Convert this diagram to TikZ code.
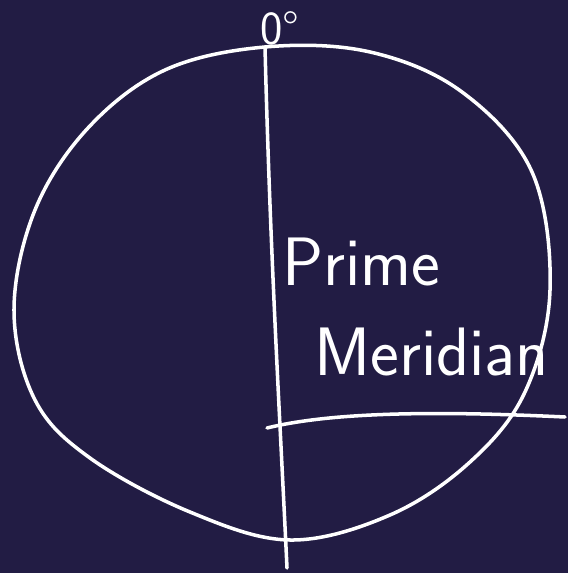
\documentclass[tikz,border=0pt]{standalone}
\usepackage{tikz}
\definecolor{boardbg}{RGB}{34,28,68}
\begin{document}
\begin{tikzpicture}[x=0.02cm,y=-0.02cm]
    \fill[boardbg] (0,0) rectangle (568,573);
    \useasboundingbox (0,0) rectangle (568,573);
    \tikzset{chalk/.style={white,line width=2pt,line cap=round,line join=round},
             scrawl/.style={white,font=\sffamily\fontsize{39}{44}\selectfont,inner sep=0pt}}

    \coordinate (ntop) at (265,47);
    \coordinate (sbot) at (287,568);
    \coordinate (eqw) at (267,428);
    \coordinate (eqe) at (565,417);

    \draw [chalk] plot[smooth cycle,tension=0.6] coordinates {
        (265,47) (165,70) (88,128) (35,210) (14,310) (35,400) (90,458)
        (190,512) (290,540) (390,515) (470,462) (525,392) (550,290)
        (532,172) (462,92) (370,52)};
    \draw [chalk] (ntop) .. controls (270,250) and (280,420) .. (sbot);
    \draw [chalk] (eqw) .. controls (340,410) and (460,412) .. (eqe);

    \node[scrawl,font=\sffamily\fontsize{27}{30}\selectfont] (deg) at (280,28) {0\textdegree};
    \node[scrawl,anchor=west] (prime) at (282,262) {Prime};
    \node[scrawl,anchor=west] (merid) at (314,352) {Meridian};
\end{tikzpicture}
\end{document}
